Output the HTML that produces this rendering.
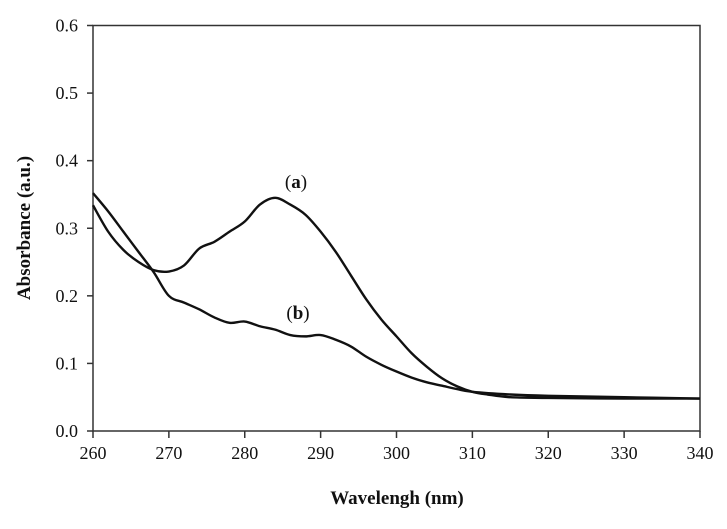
<!DOCTYPE html>
<html><head><meta charset="utf-8"><style>
body{margin:0;background:#fff}
svg text{font-family:"Liberation Serif",serif;fill:#111}
</style></head><body>
<svg width="727" height="524" xmlns="http://www.w3.org/2000/svg">
<rect x="93" y="25.5" width="607" height="405.5" fill="none" stroke="#333" stroke-width="1.5"/>
<g id="axes"></g>
<g id="series"></g>
<text x="296" y="188" font-size="19" text-anchor="middle">(<tspan font-weight="bold">a</tspan>)</text>
<text x="298" y="319" font-size="19" text-anchor="middle">(<tspan font-weight="bold">b</tspan>)</text>
<text x="397" y="504" font-size="19" font-weight="bold" text-anchor="middle">Wavelengh (nm)</text>
<text transform="translate(30,228) rotate(-90)" font-size="19" font-weight="bold" text-anchor="middle">Absorbance (a.u.)</text>
</svg>
<script>
const xTicks=[260,270,280,290,300,310,320,330,340];
const yTicks=[0.0,0.1,0.2,0.3,0.4,0.5,0.6];
const wlA=[260,262,264,266,268,270,272,274,276,278,280,282,284,286,288,290,292,294,296,298,300,302,304,306,308,310,312,315,320,330,340];
const absA=[.334,.295,.268,.25,.238,.236,.245,.27,.28,.295,.31,.335,.345,.335,.32,.295,.265,.23,.195,.165,.14,.115,.095,.078,.066,.058,.054,.05,.049,.048,.048];
const wlB=[260,262,264,266,268,270,272,274,276,278,280,282,284,286,288,290,292,294,296,298,300,302,304,306,308,310,315,320,330,340];
const absB=[.352,.325,.295,.265,.235,.2,.19,.18,.168,.16,.162,.155,.15,.142,.14,.142,.135,.125,.11,.098,.088,.079,.072,.067,.062,.058,.054,.052,.05,.048];
const NS="http://www.w3.org/2000/svg";
const X=v=>93+(v-260)*(607/80);
const Y=v=>431-v*(405.5/0.6);
const axes=document.getElementById('axes');
function mk(tag,attrs,parent){const e=document.createElementNS(NS,tag);for(const k in attrs)e.setAttribute(k,attrs[k]);parent.appendChild(e);return e;}
xTicks.forEach(t=>{
  const l=mk('line',{x1:X(t),x2:X(t),y1:431,y2:438,stroke:'#333','stroke-width':1.5},axes);
  
  
  const tx=mk('text',{x:X(t),y:459,'font-size':18,'text-anchor':'middle'},axes);
  tx.textContent=t;
  
  
});
yTicks.forEach(t=>{
  const l=mk('line',{x1:87,x2:93,y1:Y(t),y2:Y(t),stroke:'#333','stroke-width':1.5},axes);
  
  
  const tx=mk('text',{x:78,y:Y(t)+6,'font-size':18,'text-anchor':'end'},axes);
  tx.textContent=t.toFixed(1);
  
  
});
function path(xs,ys){
  const p=xs.map((x,i)=>[X(x),Y(ys[i])]);
  let d='M'+p[0][0]+','+p[0][1];
  for(let i=1;i<p.length;i++){
    const p0=p[i-2]||p[i-1],p1=p[i-1],p2=p[i],p3=p[i+1]||p[i];
    d+=' C'+(p1[0]+(p2[0]-p0[0])/6)+','+(p1[1]+(p2[1]-p0[1])/6)+' '+(p2[0]-(p3[0]-p1[0])/6)+','+(p2[1]-(p3[1]-p1[1])/6)+' '+p2[0]+','+p2[1];
  }
  return d;
}
const s=document.getElementById('series');
const a=mk('path',{d:path(wlA,absA),fill:'none',stroke:'#111','stroke-width':2.4},s);


const b=mk('path',{d:path(wlB,absB),fill:'none',stroke:'#111','stroke-width':2.4},s);


</script>
</body></html>
